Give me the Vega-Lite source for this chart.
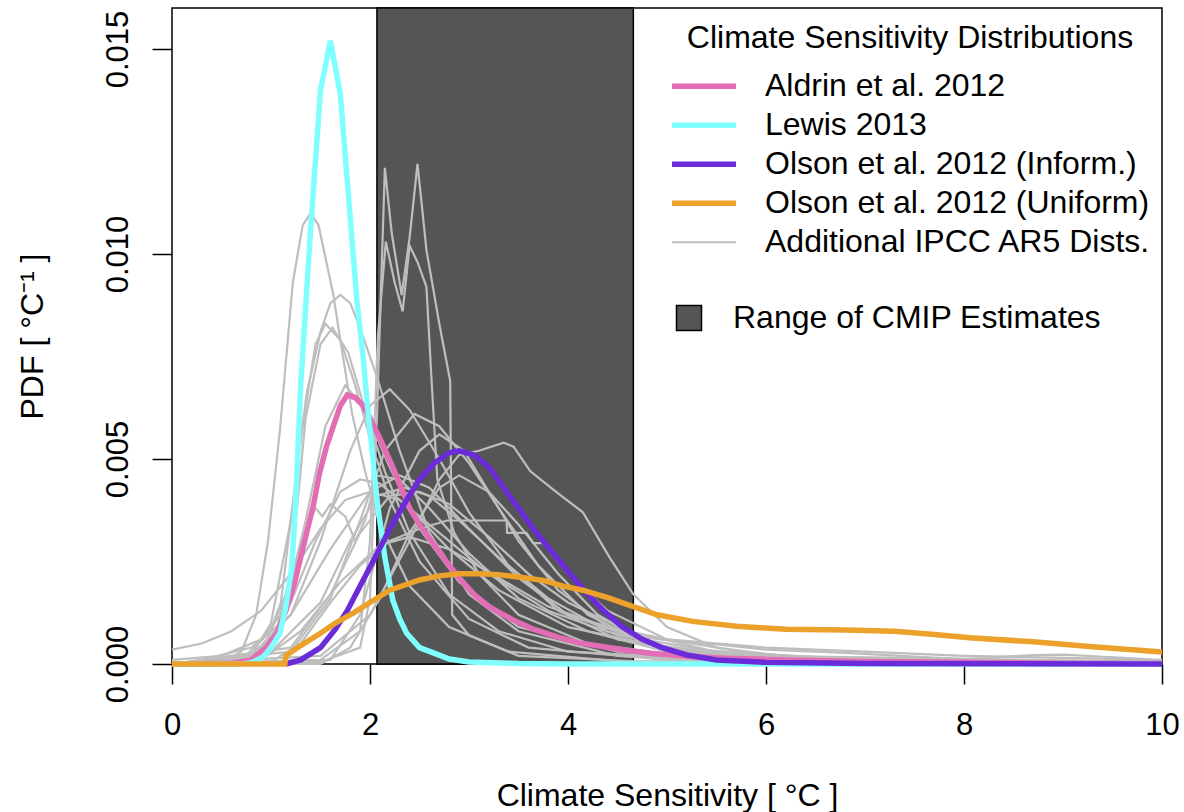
{
"$schema":"https://vega.github.io/schema/vega-lite/v6.json",
"width":990,"height":656,
"autosize":{"type":"none"},
"padding":{"left":172,"top":8,"right":22,"bottom":148},
"background":"white",
"config":{"font":"Liberation Sans","view":{"stroke":"black","strokeWidth":1.5},
 "axis":{"grid":false,"domain":false,"tickColor":"black","tickWidth":1.5,"tickSize":20,"labelColor":"black","labelFontSize":31,"titleColor":"black","titleFontSize":32,"titleFontWeight":"normal","labelFlush":false,"labelOverlap":false},
 "legend":{"labelColor":"black","titleColor":"black"}},
"datasets":{
"cmip":[{"lo":2.07,"hi":4.66,"label":"Range of CMIP Estimates"}],
"pdf":[
{"s":"Additional IPCC AR5 Dists.","c":"g1","x":0,"y":0},{"s":"Additional IPCC AR5 Dists.","c":"g1","x":0.5,"y":0.00005},{"s":"Additional IPCC AR5 Dists.","c":"g1","x":0.7,"y":0.0003},{"s":"Additional IPCC AR5 Dists.","c":"g1","x":0.85,"y":0.0012},{"s":"Additional IPCC AR5 Dists.","c":"g1","x":0.97,"y":0.003},{"s":"Additional IPCC AR5 Dists.","c":"g1","x":1.09,"y":0.0057},{"s":"Additional IPCC AR5 Dists.","c":"g1","x":1.22,"y":0.0093},{"s":"Additional IPCC AR5 Dists.","c":"g1","x":1.32,"y":0.0107},{"s":"Additional IPCC AR5 Dists.","c":"g1","x":1.4,"y":0.011},{"s":"Additional IPCC AR5 Dists.","c":"g1","x":1.48,"y":0.0107},{"s":"Additional IPCC AR5 Dists.","c":"g1","x":1.56,"y":0.0098},{"s":"Additional IPCC AR5 Dists.","c":"g1","x":1.63,"y":0.009},{"s":"Additional IPCC AR5 Dists.","c":"g1","x":1.72,"y":0.0076},{"s":"Additional IPCC AR5 Dists.","c":"g1","x":1.82,"y":0.0061},{"s":"Additional IPCC AR5 Dists.","c":"g1","x":1.95,"y":0.0047},{"s":"Additional IPCC AR5 Dists.","c":"g1","x":2.1,"y":0.0034},{"s":"Additional IPCC AR5 Dists.","c":"g1","x":2.4,"y":0.0019},{"s":"Additional IPCC AR5 Dists.","c":"g1","x":2.8,"y":0.0009},{"s":"Additional IPCC AR5 Dists.","c":"g1","x":3.4,"y":0.0003},{"s":"Additional IPCC AR5 Dists.","c":"g1","x":4.5,"y":0.00007},{"s":"Additional IPCC AR5 Dists.","c":"g1","x":10,"y":0},
{"s":"Additional IPCC AR5 Dists.","c":"g2","x":0,"y":0},{"s":"Additional IPCC AR5 Dists.","c":"g2","x":0.8,"y":0.0002},{"s":"Additional IPCC AR5 Dists.","c":"g2","x":1.0,"y":0.001},{"s":"Additional IPCC AR5 Dists.","c":"g2","x":1.2,"y":0.0035},{"s":"Additional IPCC AR5 Dists.","c":"g2","x":1.36,"y":0.0066},{"s":"Additional IPCC AR5 Dists.","c":"g2","x":1.5,"y":0.0081},{"s":"Additional IPCC AR5 Dists.","c":"g2","x":1.6,"y":0.0088},{"s":"Additional IPCC AR5 Dists.","c":"g2","x":1.7,"y":0.009},{"s":"Additional IPCC AR5 Dists.","c":"g2","x":1.8,"y":0.0088},{"s":"Additional IPCC AR5 Dists.","c":"g2","x":1.9,"y":0.0082},{"s":"Additional IPCC AR5 Dists.","c":"g2","x":2.07,"y":0.007},{"s":"Additional IPCC AR5 Dists.","c":"g2","x":2.3,"y":0.0052},{"s":"Additional IPCC AR5 Dists.","c":"g2","x":2.6,"y":0.0032},{"s":"Additional IPCC AR5 Dists.","c":"g2","x":3.0,"y":0.0017},{"s":"Additional IPCC AR5 Dists.","c":"g2","x":3.5,"y":0.0008},{"s":"Additional IPCC AR5 Dists.","c":"g2","x":4.5,"y":0.0002},{"s":"Additional IPCC AR5 Dists.","c":"g2","x":6,"y":0.00003},{"s":"Additional IPCC AR5 Dists.","c":"g2","x":10,"y":0},
{"s":"Additional IPCC AR5 Dists.","c":"g3","x":0,"y":0},{"s":"Additional IPCC AR5 Dists.","c":"g3","x":0.9,"y":0.0002},{"s":"Additional IPCC AR5 Dists.","c":"g3","x":1.1,"y":0.0015},{"s":"Additional IPCC AR5 Dists.","c":"g3","x":1.3,"y":0.0055},{"s":"Additional IPCC AR5 Dists.","c":"g3","x":1.45,"y":0.0078},{"s":"Additional IPCC AR5 Dists.","c":"g3","x":1.55,"y":0.0083},{"s":"Additional IPCC AR5 Dists.","c":"g3","x":1.7,"y":0.0079},{"s":"Additional IPCC AR5 Dists.","c":"g3","x":1.85,"y":0.0068},{"s":"Additional IPCC AR5 Dists.","c":"g3","x":2.0,"y":0.0055},{"s":"Additional IPCC AR5 Dists.","c":"g3","x":2.2,"y":0.004},{"s":"Additional IPCC AR5 Dists.","c":"g3","x":2.5,"y":0.0025},{"s":"Additional IPCC AR5 Dists.","c":"g3","x":3.0,"y":0.0011},{"s":"Additional IPCC AR5 Dists.","c":"g3","x":3.6,"y":0.0004},{"s":"Additional IPCC AR5 Dists.","c":"g3","x":5,"y":0.0001},{"s":"Additional IPCC AR5 Dists.","c":"g3","x":10,"y":0},
{"s":"Additional IPCC AR5 Dists.","c":"g4","x":0,"y":0},{"s":"Additional IPCC AR5 Dists.","c":"g4","x":1.0,"y":0.0003},{"s":"Additional IPCC AR5 Dists.","c":"g4","x":1.2,"y":0.0022},{"s":"Additional IPCC AR5 Dists.","c":"g4","x":1.35,"y":0.006},{"s":"Additional IPCC AR5 Dists.","c":"g4","x":1.5,"y":0.0078},{"s":"Additional IPCC AR5 Dists.","c":"g4","x":1.62,"y":0.0082},{"s":"Additional IPCC AR5 Dists.","c":"g4","x":1.78,"y":0.0076},{"s":"Additional IPCC AR5 Dists.","c":"g4","x":1.95,"y":0.0062},{"s":"Additional IPCC AR5 Dists.","c":"g4","x":2.15,"y":0.0047},{"s":"Additional IPCC AR5 Dists.","c":"g4","x":2.4,"y":0.0032},{"s":"Additional IPCC AR5 Dists.","c":"g4","x":2.8,"y":0.0017},{"s":"Additional IPCC AR5 Dists.","c":"g4","x":3.3,"y":0.0008},{"s":"Additional IPCC AR5 Dists.","c":"g4","x":4,"y":0.0003},{"s":"Additional IPCC AR5 Dists.","c":"g4","x":6,"y":0.00005},{"s":"Additional IPCC AR5 Dists.","c":"g4","x":10,"y":0},
{"s":"Additional IPCC AR5 Dists.","c":"g5","x":0,"y":0},{"s":"Additional IPCC AR5 Dists.","c":"g5","x":1.5,"y":0.00005},{"s":"Additional IPCC AR5 Dists.","c":"g5","x":1.9,"y":0.0004},{"s":"Additional IPCC AR5 Dists.","c":"g5","x":2.0,"y":0.0016},{"s":"Additional IPCC AR5 Dists.","c":"g5","x":2.07,"y":0.006},{"s":"Additional IPCC AR5 Dists.","c":"g5","x":2.15,"y":0.0121},{"s":"Additional IPCC AR5 Dists.","c":"g5","x":2.22,"y":0.0105},{"s":"Additional IPCC AR5 Dists.","c":"g5","x":2.32,"y":0.009},{"s":"Additional IPCC AR5 Dists.","c":"g5","x":2.4,"y":0.0104},{"s":"Additional IPCC AR5 Dists.","c":"g5","x":2.48,"y":0.0122},{"s":"Additional IPCC AR5 Dists.","c":"g5","x":2.57,"y":0.0101},{"s":"Additional IPCC AR5 Dists.","c":"g5","x":2.7,"y":0.0083},{"s":"Additional IPCC AR5 Dists.","c":"g5","x":2.81,"y":0.0069},{"s":"Additional IPCC AR5 Dists.","c":"g5","x":2.83,"y":0.0012},{"s":"Additional IPCC AR5 Dists.","c":"g5","x":3.0,"y":0.0007},{"s":"Additional IPCC AR5 Dists.","c":"g5","x":3.5,"y":0.0002},{"s":"Additional IPCC AR5 Dists.","c":"g5","x":5,"y":0.00003},{"s":"Additional IPCC AR5 Dists.","c":"g5","x":10,"y":0},
{"s":"Additional IPCC AR5 Dists.","c":"g6","x":0,"y":0},{"s":"Additional IPCC AR5 Dists.","c":"g6","x":1.5,"y":0.0001},{"s":"Additional IPCC AR5 Dists.","c":"g6","x":1.9,"y":0.0008},{"s":"Additional IPCC AR5 Dists.","c":"g6","x":2.0,"y":0.003},{"s":"Additional IPCC AR5 Dists.","c":"g6","x":2.08,"y":0.008},{"s":"Additional IPCC AR5 Dists.","c":"g6","x":2.16,"y":0.0103},{"s":"Additional IPCC AR5 Dists.","c":"g6","x":2.25,"y":0.0093},{"s":"Additional IPCC AR5 Dists.","c":"g6","x":2.33,"y":0.0086},{"s":"Additional IPCC AR5 Dists.","c":"g6","x":2.4,"y":0.0102},{"s":"Additional IPCC AR5 Dists.","c":"g6","x":2.48,"y":0.0098},{"s":"Additional IPCC AR5 Dists.","c":"g6","x":2.57,"y":0.0092},{"s":"Additional IPCC AR5 Dists.","c":"g6","x":2.62,"y":0.007},{"s":"Additional IPCC AR5 Dists.","c":"g6","x":2.68,"y":0.0045},{"s":"Additional IPCC AR5 Dists.","c":"g6","x":2.85,"y":0.0032},{"s":"Additional IPCC AR5 Dists.","c":"g6","x":3.1,"y":0.0022},{"s":"Additional IPCC AR5 Dists.","c":"g6","x":3.5,"y":0.0012},{"s":"Additional IPCC AR5 Dists.","c":"g6","x":4.2,"y":0.0005},{"s":"Additional IPCC AR5 Dists.","c":"g6","x":5.5,"y":0.0001},{"s":"Additional IPCC AR5 Dists.","c":"g6","x":10,"y":0},
{"s":"Additional IPCC AR5 Dists.","c":"g7","x":0,"y":0},{"s":"Additional IPCC AR5 Dists.","c":"g7","x":0.8,"y":0.0002},{"s":"Additional IPCC AR5 Dists.","c":"g7","x":1.2,"y":0.0012},{"s":"Additional IPCC AR5 Dists.","c":"g7","x":1.5,"y":0.003},{"s":"Additional IPCC AR5 Dists.","c":"g7","x":1.8,"y":0.0052},{"s":"Additional IPCC AR5 Dists.","c":"g7","x":2.0,"y":0.0063},{"s":"Additional IPCC AR5 Dists.","c":"g7","x":2.2,"y":0.0067},{"s":"Additional IPCC AR5 Dists.","c":"g7","x":2.4,"y":0.0062},{"s":"Additional IPCC AR5 Dists.","c":"g7","x":2.7,"y":0.005},{"s":"Additional IPCC AR5 Dists.","c":"g7","x":3.0,"y":0.0037},{"s":"Additional IPCC AR5 Dists.","c":"g7","x":3.4,"y":0.0024},{"s":"Additional IPCC AR5 Dists.","c":"g7","x":3.9,"y":0.0013},{"s":"Additional IPCC AR5 Dists.","c":"g7","x":4.5,"y":0.0006},{"s":"Additional IPCC AR5 Dists.","c":"g7","x":5.5,"y":0.0002},{"s":"Additional IPCC AR5 Dists.","c":"g7","x":7,"y":0.00005},{"s":"Additional IPCC AR5 Dists.","c":"g7","x":10,"y":0},
{"s":"Additional IPCC AR5 Dists.","c":"g8","x":0,"y":0},{"s":"Additional IPCC AR5 Dists.","c":"g8","x":1.2,"y":0.0003},{"s":"Additional IPCC AR5 Dists.","c":"g8","x":1.6,"y":0.0016},{"s":"Additional IPCC AR5 Dists.","c":"g8","x":1.9,"y":0.0035},{"s":"Additional IPCC AR5 Dists.","c":"g8","x":2.15,"y":0.0052},{"s":"Additional IPCC AR5 Dists.","c":"g8","x":2.45,"y":0.0061},{"s":"Additional IPCC AR5 Dists.","c":"g8","x":2.7,"y":0.0058},{"s":"Additional IPCC AR5 Dists.","c":"g8","x":3.0,"y":0.0049},{"s":"Additional IPCC AR5 Dists.","c":"g8","x":3.3,"y":0.0038},{"s":"Additional IPCC AR5 Dists.","c":"g8","x":3.7,"y":0.0024},{"s":"Additional IPCC AR5 Dists.","c":"g8","x":4.2,"y":0.0012},{"s":"Additional IPCC AR5 Dists.","c":"g8","x":4.8,"y":0.0005},{"s":"Additional IPCC AR5 Dists.","c":"g8","x":6,"y":0.0001},{"s":"Additional IPCC AR5 Dists.","c":"g8","x":10,"y":0},
{"s":"Additional IPCC AR5 Dists.","c":"g9","x":0,"y":0},{"s":"Additional IPCC AR5 Dists.","c":"g9","x":1.5,"y":0.0002},{"s":"Additional IPCC AR5 Dists.","c":"g9","x":2.0,"y":0.0012},{"s":"Additional IPCC AR5 Dists.","c":"g9","x":2.4,"y":0.003},{"s":"Additional IPCC AR5 Dists.","c":"g9","x":2.7,"y":0.0045},{"s":"Additional IPCC AR5 Dists.","c":"g9","x":2.9,"y":0.0051},{"s":"Additional IPCC AR5 Dists.","c":"g9","x":3.1,"y":0.0052},{"s":"Additional IPCC AR5 Dists.","c":"g9","x":3.35,"y":0.0054},{"s":"Additional IPCC AR5 Dists.","c":"g9","x":3.45,"y":0.0053},{"s":"Additional IPCC AR5 Dists.","c":"g9","x":3.62,"y":0.0047},{"s":"Additional IPCC AR5 Dists.","c":"g9","x":3.88,"y":0.0042},{"s":"Additional IPCC AR5 Dists.","c":"g9","x":4.15,"y":0.0037},{"s":"Additional IPCC AR5 Dists.","c":"g9","x":4.42,"y":0.0026},{"s":"Additional IPCC AR5 Dists.","c":"g9","x":4.66,"y":0.0017},{"s":"Additional IPCC AR5 Dists.","c":"g9","x":5.0,"y":0.0009},{"s":"Additional IPCC AR5 Dists.","c":"g9","x":5.5,"y":0.0004},{"s":"Additional IPCC AR5 Dists.","c":"g9","x":6.5,"y":0.0001},{"s":"Additional IPCC AR5 Dists.","c":"g9","x":10,"y":0},
{"s":"Additional IPCC AR5 Dists.","c":"g10","x":0,"y":0},{"s":"Additional IPCC AR5 Dists.","c":"g10","x":1.0,"y":0.00005},{"s":"Additional IPCC AR5 Dists.","c":"g10","x":1.3,"y":0.0005},{"s":"Additional IPCC AR5 Dists.","c":"g10","x":1.6,"y":0.0015},{"s":"Additional IPCC AR5 Dists.","c":"g10","x":1.9,"y":0.0024},{"s":"Additional IPCC AR5 Dists.","c":"g10","x":2.2,"y":0.003},{"s":"Additional IPCC AR5 Dists.","c":"g10","x":2.5,"y":0.0033},{"s":"Additional IPCC AR5 Dists.","c":"g10","x":2.78,"y":0.0035},{"s":"Additional IPCC AR5 Dists.","c":"g10","x":3.38,"y":0.0035},{"s":"Additional IPCC AR5 Dists.","c":"g10","x":3.385,"y":0.0032},{"s":"Additional IPCC AR5 Dists.","c":"g10","x":3.58,"y":0.0032},{"s":"Additional IPCC AR5 Dists.","c":"g10","x":3.65,"y":0.00295},{"s":"Additional IPCC AR5 Dists.","c":"g10","x":3.75,"y":0.00295},{"s":"Additional IPCC AR5 Dists.","c":"g10","x":4.0,"y":0.0022},{"s":"Additional IPCC AR5 Dists.","c":"g10","x":4.4,"y":0.0013},{"s":"Additional IPCC AR5 Dists.","c":"g10","x":5,"y":0.0006},{"s":"Additional IPCC AR5 Dists.","c":"g10","x":6,"y":0.0002},{"s":"Additional IPCC AR5 Dists.","c":"g10","x":10,"y":0.00005},
{"s":"Additional IPCC AR5 Dists.","c":"g11","x":0,"y":0},{"s":"Additional IPCC AR5 Dists.","c":"g11","x":1.0,"y":0.0003},{"s":"Additional IPCC AR5 Dists.","c":"g11","x":1.5,"y":0.0015},{"s":"Additional IPCC AR5 Dists.","c":"g11","x":1.8,"y":0.003},{"s":"Additional IPCC AR5 Dists.","c":"g11","x":2.07,"y":0.0041},{"s":"Additional IPCC AR5 Dists.","c":"g11","x":2.35,"y":0.0043},{"s":"Additional IPCC AR5 Dists.","c":"g11","x":2.6,"y":0.0041},{"s":"Additional IPCC AR5 Dists.","c":"g11","x":2.9,"y":0.0035},{"s":"Additional IPCC AR5 Dists.","c":"g11","x":3.3,"y":0.0026},{"s":"Additional IPCC AR5 Dists.","c":"g11","x":3.8,"y":0.0016},{"s":"Additional IPCC AR5 Dists.","c":"g11","x":4.4,"y":0.0008},{"s":"Additional IPCC AR5 Dists.","c":"g11","x":5,"y":0.0004},{"s":"Additional IPCC AR5 Dists.","c":"g11","x":6,"y":0.00015},{"s":"Additional IPCC AR5 Dists.","c":"g11","x":8,"y":0.00003},{"s":"Additional IPCC AR5 Dists.","c":"g11","x":10,"y":0},
{"s":"Additional IPCC AR5 Dists.","c":"g12","x":0,"y":0},{"s":"Additional IPCC AR5 Dists.","c":"g12","x":1.2,"y":0.0004},{"s":"Additional IPCC AR5 Dists.","c":"g12","x":1.6,"y":0.0017},{"s":"Additional IPCC AR5 Dists.","c":"g12","x":1.9,"y":0.0032},{"s":"Additional IPCC AR5 Dists.","c":"g12","x":2.2,"y":0.0041},{"s":"Additional IPCC AR5 Dists.","c":"g12","x":2.5,"y":0.0042},{"s":"Additional IPCC AR5 Dists.","c":"g12","x":2.8,"y":0.0039},{"s":"Additional IPCC AR5 Dists.","c":"g12","x":3.2,"y":0.0031},{"s":"Additional IPCC AR5 Dists.","c":"g12","x":3.6,"y":0.0022},{"s":"Additional IPCC AR5 Dists.","c":"g12","x":4.0,"y":0.0015},{"s":"Additional IPCC AR5 Dists.","c":"g12","x":4.6,"y":0.0008},{"s":"Additional IPCC AR5 Dists.","c":"g12","x":5.5,"y":0.0003},{"s":"Additional IPCC AR5 Dists.","c":"g12","x":7,"y":0.0001},{"s":"Additional IPCC AR5 Dists.","c":"g12","x":10,"y":0.00003},
{"s":"Additional IPCC AR5 Dists.","c":"g13","x":0,"y":0},{"s":"Additional IPCC AR5 Dists.","c":"g13","x":0.3,"y":0.0001},{"s":"Additional IPCC AR5 Dists.","c":"g13","x":0.8,"y":0.0004},{"s":"Additional IPCC AR5 Dists.","c":"g13","x":1.2,"y":0.0012},{"s":"Additional IPCC AR5 Dists.","c":"g13","x":1.6,"y":0.0028},{"s":"Additional IPCC AR5 Dists.","c":"g13","x":2.0,"y":0.0042},{"s":"Additional IPCC AR5 Dists.","c":"g13","x":2.3,"y":0.0046},{"s":"Additional IPCC AR5 Dists.","c":"g13","x":2.6,"y":0.0043},{"s":"Additional IPCC AR5 Dists.","c":"g13","x":3.0,"y":0.0033},{"s":"Additional IPCC AR5 Dists.","c":"g13","x":3.5,"y":0.0021},{"s":"Additional IPCC AR5 Dists.","c":"g13","x":4.0,"y":0.0012},{"s":"Additional IPCC AR5 Dists.","c":"g13","x":4.6,"y":0.0007},{"s":"Additional IPCC AR5 Dists.","c":"g13","x":5.1,"y":0.00055},{"s":"Additional IPCC AR5 Dists.","c":"g13","x":5.4,"y":0.0005},{"s":"Additional IPCC AR5 Dists.","c":"g13","x":6.0,"y":0.00035},{"s":"Additional IPCC AR5 Dists.","c":"g13","x":6.8,"y":0.00027},{"s":"Additional IPCC AR5 Dists.","c":"g13","x":7.5,"y":0.00018},{"s":"Additional IPCC AR5 Dists.","c":"g13","x":8.0,"y":0.00012},{"s":"Additional IPCC AR5 Dists.","c":"g13","x":8.7,"y":0.00022},{"s":"Additional IPCC AR5 Dists.","c":"g13","x":9.0,"y":0.00023},{"s":"Additional IPCC AR5 Dists.","c":"g13","x":9.7,"y":0.00014},{"s":"Additional IPCC AR5 Dists.","c":"g13","x":10,"y":0.00008},
{"s":"Additional IPCC AR5 Dists.","c":"g14","x":0,"y":0.00035},{"s":"Additional IPCC AR5 Dists.","c":"g14","x":0.3,"y":0.0005},{"s":"Additional IPCC AR5 Dists.","c":"g14","x":0.6,"y":0.0008},{"s":"Additional IPCC AR5 Dists.","c":"g14","x":0.9,"y":0.0013},{"s":"Additional IPCC AR5 Dists.","c":"g14","x":1.2,"y":0.0022},{"s":"Additional IPCC AR5 Dists.","c":"g14","x":1.5,"y":0.0033},{"s":"Additional IPCC AR5 Dists.","c":"g14","x":1.75,"y":0.004},{"s":"Additional IPCC AR5 Dists.","c":"g14","x":2.0,"y":0.0042},{"s":"Additional IPCC AR5 Dists.","c":"g14","x":2.3,"y":0.004},{"s":"Additional IPCC AR5 Dists.","c":"g14","x":2.7,"y":0.0032},{"s":"Additional IPCC AR5 Dists.","c":"g14","x":3.2,"y":0.0022},{"s":"Additional IPCC AR5 Dists.","c":"g14","x":3.8,"y":0.0013},{"s":"Additional IPCC AR5 Dists.","c":"g14","x":4.5,"y":0.0007},{"s":"Additional IPCC AR5 Dists.","c":"g14","x":5.5,"y":0.0003},{"s":"Additional IPCC AR5 Dists.","c":"g14","x":7,"y":0.0001},{"s":"Additional IPCC AR5 Dists.","c":"g14","x":10,"y":0.00003},
{"s":"Additional IPCC AR5 Dists.","c":"g15","x":0,"y":0.0001},{"s":"Additional IPCC AR5 Dists.","c":"g15","x":0.5,"y":0.0002},{"s":"Additional IPCC AR5 Dists.","c":"g15","x":0.9,"y":0.0006},{"s":"Additional IPCC AR5 Dists.","c":"g15","x":1.2,"y":0.0015},{"s":"Additional IPCC AR5 Dists.","c":"g15","x":1.45,"y":0.003},{"s":"Additional IPCC AR5 Dists.","c":"g15","x":1.7,"y":0.0042},{"s":"Additional IPCC AR5 Dists.","c":"g15","x":1.9,"y":0.0045},{"s":"Additional IPCC AR5 Dists.","c":"g15","x":2.1,"y":0.0044},{"s":"Additional IPCC AR5 Dists.","c":"g15","x":2.4,"y":0.0038},{"s":"Additional IPCC AR5 Dists.","c":"g15","x":2.8,"y":0.0028},{"s":"Additional IPCC AR5 Dists.","c":"g15","x":3.3,"y":0.0018},{"s":"Additional IPCC AR5 Dists.","c":"g15","x":4,"y":0.0009},{"s":"Additional IPCC AR5 Dists.","c":"g15","x":5,"y":0.0004},{"s":"Additional IPCC AR5 Dists.","c":"g15","x":6.5,"y":0.00015},{"s":"Additional IPCC AR5 Dists.","c":"g15","x":10,"y":0.00003},
{"s":"Additional IPCC AR5 Dists.","c":"g16","x":0,"y":0},{"s":"Additional IPCC AR5 Dists.","c":"g16","x":0.8,"y":0.0001},{"s":"Additional IPCC AR5 Dists.","c":"g16","x":1.1,"y":0.001},{"s":"Additional IPCC AR5 Dists.","c":"g16","x":1.35,"y":0.0035},{"s":"Additional IPCC AR5 Dists.","c":"g16","x":1.55,"y":0.0058},{"s":"Additional IPCC AR5 Dists.","c":"g16","x":1.75,"y":0.0068},{"s":"Additional IPCC AR5 Dists.","c":"g16","x":1.95,"y":0.0062},{"s":"Additional IPCC AR5 Dists.","c":"g16","x":2.2,"y":0.0048},{"s":"Additional IPCC AR5 Dists.","c":"g16","x":2.5,"y":0.0033},{"s":"Additional IPCC AR5 Dists.","c":"g16","x":2.9,"y":0.002},{"s":"Additional IPCC AR5 Dists.","c":"g16","x":3.5,"y":0.0009},{"s":"Additional IPCC AR5 Dists.","c":"g16","x":4.5,"y":0.0003},{"s":"Additional IPCC AR5 Dists.","c":"g16","x":6,"y":0.00005},{"s":"Additional IPCC AR5 Dists.","c":"g16","x":10,"y":0},
{"s":"Additional IPCC AR5 Dists.","c":"g17","x":0,"y":0},{"s":"Additional IPCC AR5 Dists.","c":"g17","x":0.7,"y":0.0001},{"s":"Additional IPCC AR5 Dists.","c":"g17","x":1.0,"y":0.0008},{"s":"Additional IPCC AR5 Dists.","c":"g17","x":1.2,"y":0.002},{"s":"Additional IPCC AR5 Dists.","c":"g17","x":1.35,"y":0.0033},{"s":"Additional IPCC AR5 Dists.","c":"g17","x":1.45,"y":0.0038},{"s":"Additional IPCC AR5 Dists.","c":"g17","x":1.52,"y":0.0036},{"s":"Additional IPCC AR5 Dists.","c":"g17","x":1.6,"y":0.0039},{"s":"Additional IPCC AR5 Dists.","c":"g17","x":1.75,"y":0.0036},{"s":"Additional IPCC AR5 Dists.","c":"g17","x":1.85,"y":0.003},{"s":"Additional IPCC AR5 Dists.","c":"g17","x":1.95,"y":0.0035},{"s":"Additional IPCC AR5 Dists.","c":"g17","x":2.07,"y":0.0046},{"s":"Additional IPCC AR5 Dists.","c":"g17","x":2.3,"y":0.0045},{"s":"Additional IPCC AR5 Dists.","c":"g17","x":2.6,"y":0.0038},{"s":"Additional IPCC AR5 Dists.","c":"g17","x":3.0,"y":0.0027},{"s":"Additional IPCC AR5 Dists.","c":"g17","x":3.5,"y":0.0016},{"s":"Additional IPCC AR5 Dists.","c":"g17","x":4.2,"y":0.0008},{"s":"Additional IPCC AR5 Dists.","c":"g17","x":5,"y":0.0003},{"s":"Additional IPCC AR5 Dists.","c":"g17","x":7,"y":0.00005},{"s":"Additional IPCC AR5 Dists.","c":"g17","x":10,"y":0},
{"s":"Additional IPCC AR5 Dists.","c":"g18","x":0,"y":0},{"s":"Additional IPCC AR5 Dists.","c":"g18","x":1.5,"y":0},{"s":"Additional IPCC AR5 Dists.","c":"g18","x":1.8,"y":0.0004},{"s":"Additional IPCC AR5 Dists.","c":"g18","x":2.1,"y":0.0016},{"s":"Additional IPCC AR5 Dists.","c":"g18","x":2.4,"y":0.0032},{"s":"Additional IPCC AR5 Dists.","c":"g18","x":2.7,"y":0.0043},{"s":"Additional IPCC AR5 Dists.","c":"g18","x":2.9,"y":0.0046},{"s":"Additional IPCC AR5 Dists.","c":"g18","x":3.2,"y":0.0042},{"s":"Additional IPCC AR5 Dists.","c":"g18","x":3.5,"y":0.0034},{"s":"Additional IPCC AR5 Dists.","c":"g18","x":3.9,"y":0.0022},{"s":"Additional IPCC AR5 Dists.","c":"g18","x":4.3,"y":0.0012},{"s":"Additional IPCC AR5 Dists.","c":"g18","x":4.8,"y":0.0005},{"s":"Additional IPCC AR5 Dists.","c":"g18","x":5.5,"y":0.0002},{"s":"Additional IPCC AR5 Dists.","c":"g18","x":7,"y":0.00003},{"s":"Additional IPCC AR5 Dists.","c":"g18","x":10,"y":0},
{"s":"Additional IPCC AR5 Dists.","c":"g19","x":0,"y":0},{"s":"Additional IPCC AR5 Dists.","c":"g19","x":1.6,"y":0.0001},{"s":"Additional IPCC AR5 Dists.","c":"g19","x":1.9,"y":0.0012},{"s":"Additional IPCC AR5 Dists.","c":"g19","x":2.2,"y":0.0038},{"s":"Additional IPCC AR5 Dists.","c":"g19","x":2.5,"y":0.0052},{"s":"Additional IPCC AR5 Dists.","c":"g19","x":2.7,"y":0.0056},{"s":"Additional IPCC AR5 Dists.","c":"g19","x":2.95,"y":0.0052},{"s":"Additional IPCC AR5 Dists.","c":"g19","x":3.2,"y":0.0042},{"s":"Additional IPCC AR5 Dists.","c":"g19","x":3.5,"y":0.003},{"s":"Additional IPCC AR5 Dists.","c":"g19","x":3.9,"y":0.0018},{"s":"Additional IPCC AR5 Dists.","c":"g19","x":4.4,"y":0.0009},{"s":"Additional IPCC AR5 Dists.","c":"g19","x":5,"y":0.0004},{"s":"Additional IPCC AR5 Dists.","c":"g19","x":6,"y":0.0001},{"s":"Additional IPCC AR5 Dists.","c":"g19","x":10,"y":0},
{"s":"Additional IPCC AR5 Dists.","c":"g20","x":0,"y":0},{"s":"Additional IPCC AR5 Dists.","c":"g20","x":0.9,"y":0.0001},{"s":"Additional IPCC AR5 Dists.","c":"g20","x":1.3,"y":0.0008},{"s":"Additional IPCC AR5 Dists.","c":"g20","x":1.7,"y":0.002},{"s":"Additional IPCC AR5 Dists.","c":"g20","x":2.1,"y":0.0029},{"s":"Additional IPCC AR5 Dists.","c":"g20","x":2.4,"y":0.0031},{"s":"Additional IPCC AR5 Dists.","c":"g20","x":2.8,"y":0.0028},{"s":"Additional IPCC AR5 Dists.","c":"g20","x":3.3,"y":0.0021},{"s":"Additional IPCC AR5 Dists.","c":"g20","x":3.8,"y":0.0014},{"s":"Additional IPCC AR5 Dists.","c":"g20","x":4.4,"y":0.0009},{"s":"Additional IPCC AR5 Dists.","c":"g20","x":5,"y":0.0006},{"s":"Additional IPCC AR5 Dists.","c":"g20","x":6,"y":0.0004},{"s":"Additional IPCC AR5 Dists.","c":"g20","x":7,"y":0.0003},{"s":"Additional IPCC AR5 Dists.","c":"g20","x":8,"y":0.0002},{"s":"Additional IPCC AR5 Dists.","c":"g20","x":9,"y":0.00015},{"s":"Additional IPCC AR5 Dists.","c":"g20","x":10,"y":0.0001},
{"s":"Aldrin et al. 2012","c":"A","x":0,"y":0},{"s":"Aldrin et al. 2012","c":"A","x":0.6,"y":0.00002},{"s":"Aldrin et al. 2012","c":"A","x":0.8,"y":0.0001},{"s":"Aldrin et al. 2012","c":"A","x":0.95,"y":0.0004},{"s":"Aldrin et al. 2012","c":"A","x":1.06,"y":0.00075},{"s":"Aldrin et al. 2012","c":"A","x":1.15,"y":0.0013},{"s":"Aldrin et al. 2012","c":"A","x":1.23,"y":0.0019},{"s":"Aldrin et al. 2012","c":"A","x":1.3,"y":0.0026},{"s":"Aldrin et al. 2012","c":"A","x":1.36,"y":0.0032},{"s":"Aldrin et al. 2012","c":"A","x":1.43,"y":0.0039},{"s":"Aldrin et al. 2012","c":"A","x":1.49,"y":0.00465},{"s":"Aldrin et al. 2012","c":"A","x":1.56,"y":0.0053},{"s":"Aldrin et al. 2012","c":"A","x":1.63,"y":0.0058},{"s":"Aldrin et al. 2012","c":"A","x":1.7,"y":0.0063},{"s":"Aldrin et al. 2012","c":"A","x":1.77,"y":0.00656},{"s":"Aldrin et al. 2012","c":"A","x":1.85,"y":0.0065},{"s":"Aldrin et al. 2012","c":"A","x":1.93,"y":0.0063},{"s":"Aldrin et al. 2012","c":"A","x":2.0,"y":0.006},{"s":"Aldrin et al. 2012","c":"A","x":2.1,"y":0.0055},{"s":"Aldrin et al. 2012","c":"A","x":2.23,"y":0.0048},{"s":"Aldrin et al. 2012","c":"A","x":2.4,"y":0.0038},{"s":"Aldrin et al. 2012","c":"A","x":2.5,"y":0.0034},{"s":"Aldrin et al. 2012","c":"A","x":2.65,"y":0.0029},{"s":"Aldrin et al. 2012","c":"A","x":2.77,"y":0.0025},{"s":"Aldrin et al. 2012","c":"A","x":2.9,"y":0.0021},{"s":"Aldrin et al. 2012","c":"A","x":3.05,"y":0.0017},{"s":"Aldrin et al. 2012","c":"A","x":3.2,"y":0.0014},{"s":"Aldrin et al. 2012","c":"A","x":3.35,"y":0.0012},{"s":"Aldrin et al. 2012","c":"A","x":3.45,"y":0.00107},{"s":"Aldrin et al. 2012","c":"A","x":3.65,"y":0.00085},{"s":"Aldrin et al. 2012","c":"A","x":3.89,"y":0.00066},{"s":"Aldrin et al. 2012","c":"A","x":4.1,"y":0.00052},{"s":"Aldrin et al. 2012","c":"A","x":4.36,"y":0.00042},{"s":"Aldrin et al. 2012","c":"A","x":4.6,"y":0.00033},{"s":"Aldrin et al. 2012","c":"A","x":4.83,"y":0.00026},{"s":"Aldrin et al. 2012","c":"A","x":5.2,"y":0.00019},{"s":"Aldrin et al. 2012","c":"A","x":5.6,"y":0.00014},{"s":"Aldrin et al. 2012","c":"A","x":6.2,"y":0.0001},{"s":"Aldrin et al. 2012","c":"A","x":7,"y":0.00006},{"s":"Aldrin et al. 2012","c":"A","x":8,"y":0.00004},{"s":"Aldrin et al. 2012","c":"A","x":9,"y":0.00002},{"s":"Aldrin et al. 2012","c":"A","x":10,"y":0.00001},
{"s":"Lewis 2013","c":"L","x":0,"y":0},{"s":"Lewis 2013","c":"L","x":0.7,"y":0},{"s":"Lewis 2013","c":"L","x":0.8,"y":0.00003},{"s":"Lewis 2013","c":"L","x":0.92,"y":0.00017},{"s":"Lewis 2013","c":"L","x":1.0,"y":0.0004},{"s":"Lewis 2013","c":"L","x":1.09,"y":0.00075},{"s":"Lewis 2013","c":"L","x":1.15,"y":0.0014},{"s":"Lewis 2013","c":"L","x":1.21,"y":0.00237},{"s":"Lewis 2013","c":"L","x":1.25,"y":0.004},{"s":"Lewis 2013","c":"L","x":1.3,"y":0.0068},{"s":"Lewis 2013","c":"L","x":1.4,"y":0.0106},{"s":"Lewis 2013","c":"L","x":1.5,"y":0.014},{"s":"Lewis 2013","c":"L","x":1.6,"y":0.0152},{"s":"Lewis 2013","c":"L","x":1.7,"y":0.0139},{"s":"Lewis 2013","c":"L","x":1.8,"y":0.0109},{"s":"Lewis 2013","c":"L","x":1.87,"y":0.0088},{"s":"Lewis 2013","c":"L","x":1.93,"y":0.0075},{"s":"Lewis 2013","c":"L","x":1.97,"y":0.0064},{"s":"Lewis 2013","c":"L","x":2.03,"y":0.005},{"s":"Lewis 2013","c":"L","x":2.07,"y":0.004},{"s":"Lewis 2013","c":"L","x":2.15,"y":0.0026},{"s":"Lewis 2013","c":"L","x":2.23,"y":0.00156},{"s":"Lewis 2013","c":"L","x":2.3,"y":0.0011},{"s":"Lewis 2013","c":"L","x":2.37,"y":0.00075},{"s":"Lewis 2013","c":"L","x":2.5,"y":0.0004},{"s":"Lewis 2013","c":"L","x":2.64,"y":0.00027},{"s":"Lewis 2013","c":"L","x":2.8,"y":0.00012},{"s":"Lewis 2013","c":"L","x":3.0,"y":0.00005},{"s":"Lewis 2013","c":"L","x":3.5,"y":0.00001},{"s":"Lewis 2013","c":"L","x":4,"y":0},{"s":"Lewis 2013","c":"L","x":10,"y":0},
{"s":"Olson et al. 2012 (Inform.)","c":"I","x":1.15,"y":0},{"s":"Olson et al. 2012 (Inform.)","c":"I","x":1.3,"y":0.0001},{"s":"Olson et al. 2012 (Inform.)","c":"I","x":1.5,"y":0.0004},{"s":"Olson et al. 2012 (Inform.)","c":"I","x":1.65,"y":0.00085},{"s":"Olson et al. 2012 (Inform.)","c":"I","x":1.77,"y":0.0013},{"s":"Olson et al. 2012 (Inform.)","c":"I","x":1.9,"y":0.0019},{"s":"Olson et al. 2012 (Inform.)","c":"I","x":2.03,"y":0.0025},{"s":"Olson et al. 2012 (Inform.)","c":"I","x":2.2,"y":0.0033},{"s":"Olson et al. 2012 (Inform.)","c":"I","x":2.37,"y":0.004},{"s":"Olson et al. 2012 (Inform.)","c":"I","x":2.5,"y":0.0045},{"s":"Olson et al. 2012 (Inform.)","c":"I","x":2.65,"y":0.0049},{"s":"Olson et al. 2012 (Inform.)","c":"I","x":2.8,"y":0.00515},{"s":"Olson et al. 2012 (Inform.)","c":"I","x":2.9,"y":0.0052},{"s":"Olson et al. 2012 (Inform.)","c":"I","x":3.05,"y":0.0051},{"s":"Olson et al. 2012 (Inform.)","c":"I","x":3.2,"y":0.0048},{"s":"Olson et al. 2012 (Inform.)","c":"I","x":3.35,"y":0.0043},{"s":"Olson et al. 2012 (Inform.)","c":"I","x":3.5,"y":0.0038},{"s":"Olson et al. 2012 (Inform.)","c":"I","x":3.68,"y":0.0032},{"s":"Olson et al. 2012 (Inform.)","c":"I","x":3.85,"y":0.0027},{"s":"Olson et al. 2012 (Inform.)","c":"I","x":4.02,"y":0.0022},{"s":"Olson et al. 2012 (Inform.)","c":"I","x":4.2,"y":0.0017},{"s":"Olson et al. 2012 (Inform.)","c":"I","x":4.36,"y":0.0013},{"s":"Olson et al. 2012 (Inform.)","c":"I","x":4.55,"y":0.0009},{"s":"Olson et al. 2012 (Inform.)","c":"I","x":4.75,"y":0.0006},{"s":"Olson et al. 2012 (Inform.)","c":"I","x":4.95,"y":0.0004},{"s":"Olson et al. 2012 (Inform.)","c":"I","x":5.2,"y":0.00022},{"s":"Olson et al. 2012 (Inform.)","c":"I","x":5.5,"y":0.0001},{"s":"Olson et al. 2012 (Inform.)","c":"I","x":6,"y":0.00004},{"s":"Olson et al. 2012 (Inform.)","c":"I","x":7,"y":0.00001},{"s":"Olson et al. 2012 (Inform.)","c":"I","x":10,"y":0},
{"s":"Olson et al. 2012 (Uniform)","c":"U","x":0,"y":0},{"s":"Olson et al. 2012 (Uniform)","c":"U","x":1.14,"y":0},{"s":"Olson et al. 2012 (Uniform)","c":"U","x":1.15,"y":0.0002},{"s":"Olson et al. 2012 (Uniform)","c":"U","x":1.3,"y":0.00045},{"s":"Olson et al. 2012 (Uniform)","c":"U","x":1.5,"y":0.00075},{"s":"Olson et al. 2012 (Uniform)","c":"U","x":1.65,"y":0.001},{"s":"Olson et al. 2012 (Uniform)","c":"U","x":1.83,"y":0.00124},{"s":"Olson et al. 2012 (Uniform)","c":"U","x":2.0,"y":0.0015},{"s":"Olson et al. 2012 (Uniform)","c":"U","x":2.2,"y":0.0018},{"s":"Olson et al. 2012 (Uniform)","c":"U","x":2.5,"y":0.00205},{"s":"Olson et al. 2012 (Uniform)","c":"U","x":2.7,"y":0.00215},{"s":"Olson et al. 2012 (Uniform)","c":"U","x":2.9,"y":0.0022},{"s":"Olson et al. 2012 (Uniform)","c":"U","x":3.1,"y":0.0022},{"s":"Olson et al. 2012 (Uniform)","c":"U","x":3.3,"y":0.00218},{"s":"Olson et al. 2012 (Uniform)","c":"U","x":3.5,"y":0.00212},{"s":"Olson et al. 2012 (Uniform)","c":"U","x":3.75,"y":0.00204},{"s":"Olson et al. 2012 (Uniform)","c":"U","x":3.95,"y":0.0019},{"s":"Olson et al. 2012 (Uniform)","c":"U","x":4.15,"y":0.0018},{"s":"Olson et al. 2012 (Uniform)","c":"U","x":4.4,"y":0.00162},{"s":"Olson et al. 2012 (Uniform)","c":"U","x":4.66,"y":0.0014},{"s":"Olson et al. 2012 (Uniform)","c":"U","x":4.9,"y":0.0012},{"s":"Olson et al. 2012 (Uniform)","c":"U","x":5.26,"y":0.00104},{"s":"Olson et al. 2012 (Uniform)","c":"U","x":5.7,"y":0.00092},{"s":"Olson et al. 2012 (Uniform)","c":"U","x":6.2,"y":0.00085},{"s":"Olson et al. 2012 (Uniform)","c":"U","x":6.8,"y":0.00083},{"s":"Olson et al. 2012 (Uniform)","c":"U","x":7.3,"y":0.0008},{"s":"Olson et al. 2012 (Uniform)","c":"U","x":7.7,"y":0.00072},{"s":"Olson et al. 2012 (Uniform)","c":"U","x":8.06,"y":0.00064},{"s":"Olson et al. 2012 (Uniform)","c":"U","x":8.7,"y":0.00054},{"s":"Olson et al. 2012 (Uniform)","c":"U","x":9.3,"y":0.00042},{"s":"Olson et al. 2012 (Uniform)","c":"U","x":10,"y":0.00029}
]},
"layer":[
{"data":{"name":"cmip"},
 "mark":{"type":"rect","stroke":"black","strokeWidth":1.5},
 "encoding":{
  "x":{"field":"lo","type":"quantitative","scale":{"domain":[0,10],"nice":false,"zero":false},"axis":{"title":"Climate Sensitivity [ °C ]","values":[0,2,4,6,8,10],"labelPadding":26,"titleY":141,"titleBaseline":"alphabetic"}},
  "x2":{"field":"hi"},
  "fill":{"field":"label","type":"nominal","scale":{"domain":["Range of CMIP Estimates"],"range":["#555555"]},
   "legend":{"title":null,"orient":"none","legendX":501,"legendY":294,"symbolType":"square","symbolSize":625,"symbolStrokeColor":"black","symbolStrokeWidth":1.5,"symbolOpacity":1,"labelFontSize":32,"labelOffset":28,"padding":0,"labelLimit":800}}}},
{"data":{"name":"pdf"},
 "transform":[{"filter":"datum.s === 'Additional IPCC AR5 Dists.'"}],
 "mark":{"type":"line"},
 "encoding":{
  "x":{"field":"x","type":"quantitative","scale":{"domain":[0,10],"nice":false,"zero":false},"axis":{"title":"Climate Sensitivity [ °C ]","values":[0,2,4,6,8,10],"labelPadding":26,"titleY":141,"titleBaseline":"alphabetic"}},
  "y":{"field":"y","type":"quantitative","scale":{"domain":[0,0.016],"nice":false},"axis":{"title":"PDF [ °C⁻¹ ]","values":[0,0.005,0.01,0.015],"format":".3f","labelAngle":270,"labelAlign":"center","labelBaseline":"alphabetic","labelPadding":25,"titleX":-130,"titleY":328,"titleAngle":270,"titleAlign":"center","titleBaseline":"alphabetic"}},
  "detail":{"field":"c"},
  "stroke":{"field":"s","type":"nominal","scale":{"domain":["Aldrin et al. 2012","Lewis 2013","Olson et al. 2012 (Inform.)","Olson et al. 2012 (Uniform)","Additional IPCC AR5 Dists."],"range":["#E36DB5","#80FFFF","#6C2BD9","#EBA12A","#BEBEBE"]},
   "legend":{"title":"Climate Sensitivity Distributions","orient":"none","legendX":497,"legendY":15,"symbolType":"stroke","symbolSize":4096,"clipHeight":38.5,"labelFontSize":32,"titleFontSize":32,"titleFontWeight":"normal","labelOffset":26,"titlePadding":12,"titleAnchor":"middle","titleAlign":"center","padding":0,"rowPadding":0,"labelLimit":800,"titleLimit":800}},
  "strokeWidth":{"field":"s","type":"nominal","scale":{"type":"ordinal","domain":["Aldrin et al. 2012","Lewis 2013","Olson et al. 2012 (Inform.)","Olson et al. 2012 (Uniform)","Additional IPCC AR5 Dists."],"range":[5.5,5.5,5.5,5.5,2.2]},
   "legend":{"title":"Climate Sensitivity Distributions","orient":"none","legendX":497,"legendY":15,"symbolType":"stroke","symbolSize":4096,"clipHeight":38.5,"labelFontSize":32,"titleFontSize":32,"titleFontWeight":"normal","labelOffset":26,"titlePadding":12,"titleAnchor":"middle","titleAlign":"center","padding":0,"rowPadding":0,"labelLimit":800,"titleLimit":800}}}},
{"data":{"name":"pdf"},
 "transform":[{"filter":"datum.s !== 'Additional IPCC AR5 Dists.'"}],
 "mark":{"type":"line"},
 "encoding":{
  "x":{"field":"x","type":"quantitative","axis":{"title":"Climate Sensitivity [ °C ]","values":[0,2,4,6,8,10],"labelPadding":26,"titleY":141,"titleBaseline":"alphabetic"}},
  "y":{"field":"y","type":"quantitative","axis":{"title":"PDF [ °C⁻¹ ]","values":[0,0.005,0.01,0.015],"format":".3f","labelAngle":270,"labelAlign":"center","labelBaseline":"alphabetic","labelPadding":25,"titleX":-130,"titleY":328,"titleAngle":270,"titleAlign":"center","titleBaseline":"alphabetic"}},
  "detail":{"field":"c"},
  "stroke":{"field":"s","type":"nominal","scale":{"domain":["Aldrin et al. 2012","Lewis 2013","Olson et al. 2012 (Inform.)","Olson et al. 2012 (Uniform)","Additional IPCC AR5 Dists."],"range":["#E36DB5","#80FFFF","#6C2BD9","#EBA12A","#BEBEBE"]},
   "legend":{"title":"Climate Sensitivity Distributions","orient":"none","legendX":497,"legendY":15,"symbolType":"stroke","symbolSize":4096,"clipHeight":38.5,"labelFontSize":32,"titleFontSize":32,"titleFontWeight":"normal","labelOffset":26,"titlePadding":12,"titleAnchor":"middle","titleAlign":"center","padding":0,"rowPadding":0,"labelLimit":800,"titleLimit":800}},
  "strokeWidth":{"field":"s","type":"nominal","scale":{"type":"ordinal","domain":["Aldrin et al. 2012","Lewis 2013","Olson et al. 2012 (Inform.)","Olson et al. 2012 (Uniform)","Additional IPCC AR5 Dists."],"range":[5.5,5.5,5.5,5.5,2.2]},
   "legend":{"title":"Climate Sensitivity Distributions","orient":"none","legendX":497,"legendY":15,"symbolType":"stroke","symbolSize":4096,"clipHeight":38.5,"labelFontSize":32,"titleFontSize":32,"titleFontWeight":"normal","labelOffset":26,"titlePadding":12,"titleAnchor":"middle","titleAlign":"center","padding":0,"rowPadding":0,"labelLimit":800,"titleLimit":800}}}}
]
}
